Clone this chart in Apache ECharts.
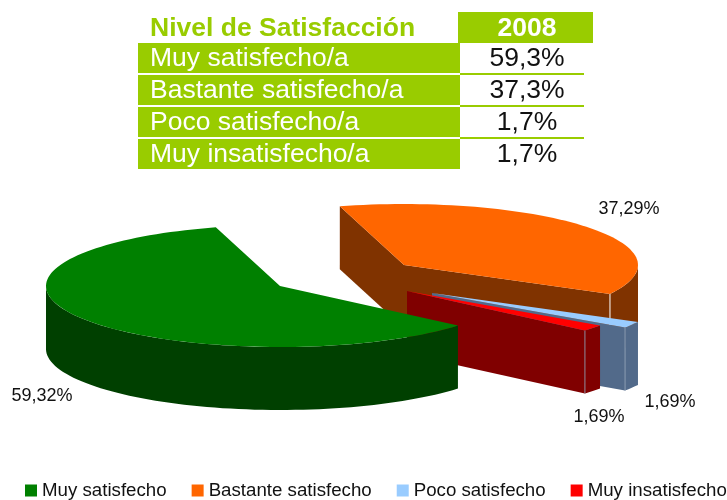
<!DOCTYPE html>
<html>
<head>
<meta charset="utf-8">
<style>html,body{margin:0;padding:0;background:#fff}#main{width:727px;height:500px}</style>
<script src="https://cdn.jsdelivr.net/npm/echarts@6/dist/echarts.min.js"></script>
</head>
<body>
<div id="main"></div>
<script>
var categories = ['Muy satisfecho', 'Bastante satisfecho', 'Poco satisfecho', 'Muy insatisfecho'];
var percents = [59.32, 37.29, 1.69, 1.69];
var tableHeader = ['Nivel de Satisfacción', '2008'];
var tableRows = ['Muy satisfecho/a', 'Bastante satisfecho/a', 'Poco satisfecho/a', 'Muy insatisfecho/a'];
var tableValues = ['59,3%', '37,3%', '1,7%', '1,7%'];

var topColors = ['#008000', '#FF6600', '#99CCFF', '#FF0000'];
var sideColors = ['#004000', '#803300', '#526a8a', '#800000'];
var jointColors = [null, '#ffffff', '#8a9ab0', '#8f8a9a'];

// pie geometry
var font = '"Liberation Sans", Arial, sans-serif';
var lime = '#99CC00';
var cx = 342, cy = 275, rx = 234, ry = 61, depth = 63;
var firstAngle = -40.5;
var explode = [[-62, 11], [62, -10], [90, 18], [65, 16]];
var labelPos = [[42, 396], [629, 209], [670, 402], [599, 417]];
var zOrder = [6, 3, 4, 5];

function point(a, ox, oy, down) {
    var r = a * Math.PI / 180;
    return [ox + rx * Math.cos(r), oy - ry * Math.sin(r) + (down || 0)];
}

function arc(a0, a1, ox, oy, down) {
    var pts = [];
    var n = Math.max(2, Math.ceil(Math.abs(a1 - a0) / 2));
    for (var i = 0; i <= n; i++) {
        pts.push(point(a0 + (a1 - a0) * i / n, ox, oy, down));
    }
    return pts;
}

function renderSlice(idx, params, api) {
    var total = percents.reduce(function (s, v) { return s + v; }, 0);
    var before = percents.slice(0, idx).reduce(function (s, v) { return s + v; }, 0);
    var value = api.value(0);
    // goes clockwise from firstAngle
    var a0 = firstAngle - before / total * 360;
    var a1 = a0 - value / total * 360;
    var ox = cx + explode[idx][0], oy = cy + explode[idx][1];
    var kids = [];

    function wall(a) {
        var p = point(a, ox, oy);
        kids.push({ type: 'polygon', shape: { points: [[ox, oy], p, [p[0], p[1] + depth], [ox, oy + depth]] },
            style: { fill: sideColors[idx] } });
    }
    if (Math.cos(a0 * Math.PI / 180) < 0) wall(a0);
    if (Math.cos(a1 * Math.PI / 180) > 0) wall(a1);

    // front part of the rim, the angles with sin < 0
    var step, from = null, to = null;
    for (step = 0; step <= 400; step++) {
        var a = a0 + (a1 - a0) * step / 400;
        if (Math.sin(a * Math.PI / 180) <= 0) {
            if (from === null) from = a;
            to = a;
        } else if (from !== null) {
            break;
        }
    }
    if (from !== null) {
        var upper = arc(from, to, ox, oy, 0);
        var lower = arc(to, from, ox, oy, depth);
        kids.push({ type: 'polygon', shape: { points: upper.concat(lower) }, style: { fill: sideColors[idx] } });
    }

    if (jointColors[idx]) {
        var j = point(a1, ox, oy);
        kids.push({ type: 'line', shape: { x1: j[0], y1: j[1], x2: j[0], y2: j[1] + depth },
            style: { stroke: jointColors[idx], lineWidth: 1 } });
    }

    kids.push({ type: 'polygon', shape: { points: [[ox, oy]].concat(arc(a0, a1, ox, oy, 0)) },
        style: { fill: topColors[idx] } });

    kids.push({ type: 'text', style: { x: labelPos[idx][0], y: labelPos[idx][1],
        text: value.toFixed(2).replace('.', ',') + '%', fill: '#111', fontFamily: font, fontSize: 18,
        align: 'center', verticalAlign: 'middle' } });

    return { type: 'group', children: kids };
}

var series = categories.map(function (name, i) {
    return {
        type: 'custom',
        name: name,
        coordinateSystem: 'none',
        z: zOrder[i],
        silent: true,
        itemStyle: { color: topColors[i] },
        data: [[percents[i]]],
        renderItem: function (params, api) { return renderSlice(i, params, api); }
    };
});

// table at the top
var tableEls = [];
tableEls.push({ type: 'rect', shape: { x: 458, y: 12, width: 135, height: 31 }, style: { fill: lime } });
tableEls.push({ type: 'text', style: { x: 150, y: 29, text: tableHeader[0], fill: lime, fontFamily: font,
    fontSize: 26.5, fontWeight: 'bold', verticalAlign: 'middle' } });
tableEls.push({ type: 'text', style: { x: 527, y: 29, text: tableHeader[1], fill: '#fff', fontFamily: font,
    fontSize: 26.5, fontWeight: 'bold', align: 'center', verticalAlign: 'middle' } });
tableRows.forEach(function (row, i) {
    var y = 43 + i * 32;
    tableEls.push({ type: 'rect', shape: { x: 138, y: y, width: 322, height: 30 }, style: { fill: lime } });
    if (i < tableRows.length - 1) {
        tableEls.push({ type: 'rect', shape: { x: 460, y: y + 30, width: 124, height: 2 }, style: { fill: lime } });
    }
    tableEls.push({ type: 'text', style: { x: 150, y: y + 16, text: row, fill: '#fff', fontFamily: font,
        fontSize: 26.5, verticalAlign: 'middle' } });
    tableEls.push({ type: 'text', style: { x: 527, y: y + 16, text: tableValues[i], fill: '#111', fontFamily: font,
        fontSize: 26.5, align: 'center', verticalAlign: 'middle' } });
});

var myChart = echarts.init(document.getElementById('main'), null, { renderer: 'canvas' });
myChart.setOption({
    animation: false,
    backgroundColor: '#fff',
    legend: {
        data: categories,
        left: 25,
        top: 481,
        padding: 0,
        icon: 'rect',
        itemWidth: 12,
        itemHeight: 12,
        itemGap: 25,
        selectedMode: false,
        textStyle: { fontFamily: font, fontSize: 18.7, color: '#111' }
    },
    graphic: { elements: tableEls },
    series: series
});
</script>
</body>
</html>
